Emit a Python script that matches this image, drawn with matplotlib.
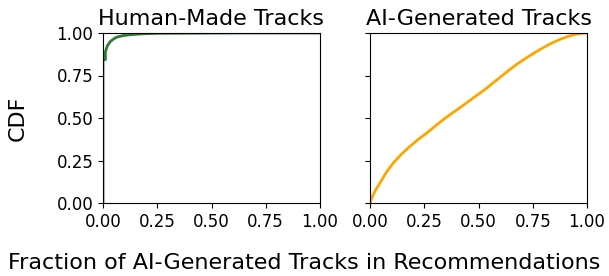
import matplotlib

matplotlib.use("Agg")
import matplotlib.pyplot as plt
from matplotlib.ticker import FormatStrFormatter

# CDF of the fraction of AI-generated tracks in recommendations
human_x = [0.0, 0.0, 0.011, 0.011, 0.02, 0.034, 0.05, 0.064, 0.09, 0.126, 0.18, 0.25, 0.4, 0.6, 1.0]
human_cdf = [0.0, 0.843, 0.843, 0.89, 0.925, 0.95, 0.966, 0.976, 0.984, 0.99, 0.995, 0.998, 0.999, 1.0, 1.0]

ai_x = [0.0, 0.006, 0.012, 0.025, 0.046, 0.075, 0.107, 0.145, 0.184, 0.22, 0.26, 0.3, 0.337,
        0.375, 0.413, 0.45, 0.49, 0.53, 0.567, 0.605, 0.643, 0.68, 0.72, 0.76, 0.796, 0.835,
        0.873, 0.91, 0.95, 0.975, 1.0]
ai_cdf = [0.0, 0.022, 0.04, 0.075, 0.118, 0.18, 0.235, 0.287, 0.333, 0.372, 0.41, 0.452, 0.49,
          0.525, 0.559, 0.594, 0.631, 0.668, 0.706, 0.745, 0.784, 0.819, 0.853, 0.885, 0.912,
          0.939, 0.961, 0.979, 0.993, 0.998, 1.0]

ticks = [0.0, 0.25, 0.5, 0.75, 1.0]

fig = plt.figure(figsize=(6.09, 2.76), dpi=100)
ax1 = fig.add_axes([103 / 609, 1 - 203 / 276, 217 / 609, 170 / 276])
ax2 = fig.add_axes([370 / 609, 1 - 203 / 276, 217 / 609, 170 / 276], sharey=ax1)

ax1.plot(human_x, human_cdf, color="#2e7d32", linewidth=2)
ax1.set_title("Human-Made Tracks", fontsize=16)
ax1.set_ylabel("CDF", fontsize=16)
ax1.yaxis.set_label_coords(-0.345, 0.5)

ax2.plot(ai_x, ai_cdf, color="orange", linewidth=2)
ax2.set_title("AI-Generated Tracks", fontsize=16)
ax2.tick_params(labelleft=False)

for ax in (ax1, ax2):
    ax.set_xlim(0, 1)
    ax.set_ylim(0, 1)
    ax.set_xticks(ticks)
    ax.set_yticks(ticks)
    ax.xaxis.set_major_formatter(FormatStrFormatter("%.2f"))
    ax.yaxis.set_major_formatter(FormatStrFormatter("%.2f"))
    ax.tick_params(labelsize=12)

fig.text(0.5, 0.01, "Fraction of AI-Generated Tracks in Recommendations",
         ha="center", va="bottom", fontsize=16)

fig.savefig("out.png", dpi=100)
